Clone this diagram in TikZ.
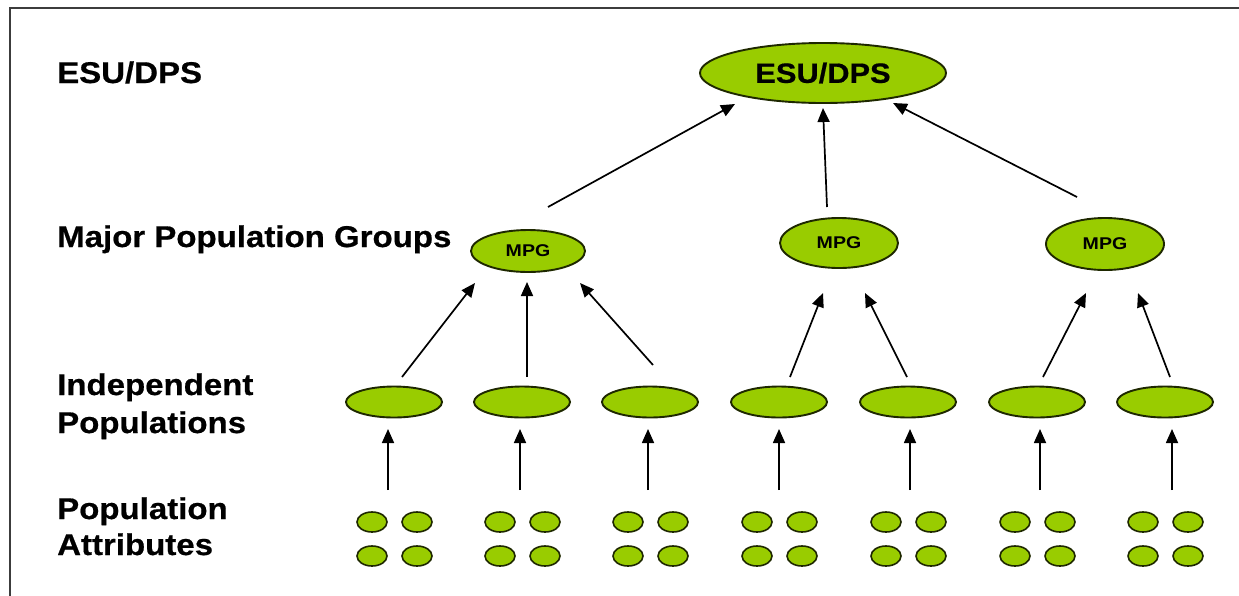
\documentclass[tikz,border=0pt]{standalone}
\usepackage{fontspec}
\usetikzlibrary{shapes.geometric,arrows.meta,calc}
\newfontfamily\lblfont[FakeStretch=1.1,FakeBold=0.6]{Liberation Sans}
\newfontfamily\mpgfont[FakeStretch=1.15]{Liberation Sans}
\definecolor{leaf}{RGB}{153,204,0}
\definecolor{rim}{RGB}{30,40,0}
\definecolor{framec}{RGB}{60,60,60}
\begin{document}
\begin{tikzpicture}[x=1pt,y=-1pt,
  blob/.style={ellipse, draw=rim, fill=leaf, line width=1.9pt, inner sep=0pt},
  esustyle/.style={blob, minimum width=246pt, minimum height=60pt,
    font=\lblfont\bfseries\fontsize{28}{32}\selectfont},
  mpgstyle/.style={blob, font=\mpgfont\bfseries\fontsize{17}{20}\selectfont},
  ipstyle/.style={blob, minimum width=96pt, minimum height=31pt},
  dotstyle/.style={blob, line width=1.6pt, minimum width=30pt, minimum height=20pt},
  arr/.style={draw=black, line width=1.7pt, -{Triangle[length=14pt,width=12pt]}},
  lbl/.style={anchor=base west, inner sep=0pt, font=\lblfont\bfseries\fontsize{30}{36}\selectfont}]
\useasboundingbox (0,0) rectangle (1239,595);
\draw[line width=2pt, framec] (10,600) -- (10,8) -- (1245,8);

% left labels
\node[lbl] (lesu) at (57,83) {ESU/DPS};
\node[lbl] (lmpg) at (57,247) {Major Population Groups};
\node[lbl] (lip1) at (57,395) {Independent};
\node[lbl] (lip2) at (57,433) {Populations};
\node[lbl] (lpa1) at (57,519) {Population};
\node[lbl] (lpa2) at (57,555) {Attributes};

% top
\node[esustyle] (esu) at (823,73) {ESU/DPS};

% MPG
\node[mpgstyle, minimum width=114pt, minimum height=42pt] (mpg1) at (528,251) {MPG};
\node[mpgstyle, minimum width=118pt, minimum height=50pt] (mpg2) at (839,243) {MPG};
\node[mpgstyle, minimum width=118pt, minimum height=52pt] (mpg3) at (1105,244) {MPG};

% independent populations and attributes
\foreach \i/\x/\dx in {1/394/-6, 2/522/-2, 3/650/-2, 4/779/0, 5/908/2, 6/1037/3, 7/1165/7}{
  \node[ipstyle] (ip\i) at (\x,402) {};
  \coordinate (at\i) at (\x,539);
  \node[dotstyle] (d\i a) at (\x-22,522) {};
  \node[dotstyle] (d\i b) at (\x+23,522) {};
  \node[dotstyle] (d\i c) at (\x-22,556) {};
  \node[dotstyle] (d\i d) at (\x+23,556) {};
  \draw[arr] ($(at\i)+(\dx,-49)$) -- ($(ip\i)+(\dx,27)$);
}

% IP -> MPG
\draw[arr] ($(ip1)+(8,-25)$) -- ($(mpg1)+(-53,32)$);
\draw[arr] ($(ip2)+(5,-25)$) -- ($(mpg1)+(-1,31)$);
\draw[arr] ($(ip3)+(3,-37)$) -- ($(mpg1)+(52,32)$);
\draw[arr] ($(ip4)+(11,-25)$) -- ($(mpg2)+(-16,50)$);
\draw[arr] ($(ip5)+(-1,-25)$) -- ($(mpg2)+(26,50)$);
\draw[arr] ($(ip6)+(6,-25)$) -- ($(mpg3)+(-19,49)$);
\draw[arr] ($(ip7)+(5,-25)$) -- ($(mpg3)+(33,49)$);

% MPG -> ESU
\draw[arr] ($(mpg1)+(20,-44)$) -- ($(esu)+(-88,31)$);
\draw[arr] ($(mpg2)+(-12,-36)$) -- ($(esu)+(0,35)$);
\draw[arr] ($(mpg3)+(-28,-47)$) -- ($(esu)+(70,30)$);
\end{tikzpicture}
\end{document}
